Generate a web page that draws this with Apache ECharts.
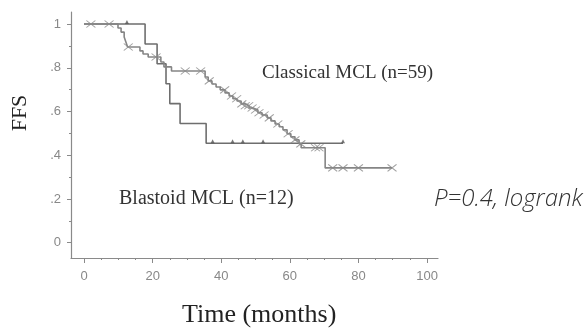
<!DOCTYPE html>
<html><head><meta charset="utf-8">
<script src="https://cdn.jsdelivr.net/npm/echarts@6/dist/echarts.min.js"></script>
<style>html,body{margin:0;padding:0;background:#fff}#c{width:588px;height:330px}</style>
</head><body><div id="c"></div>
<script>
// ---- data ----
const xMajorTicks = [0, 20, 40, 60, 80, 100];
const xMinorTicks = [5, 10, 15, 25, 30, 35, 45, 50, 55, 65, 70, 75, 85, 90, 95];
const yMajorTicks = [0, 0.2, 0.4, 0.6, 0.8, 1];
const yMinorTicks = [0.1, 0.3, 0.5, 0.7, 0.9];

const classicalTime = [0, 9.9, 10.8, 11.7, 12.2, 12.7, 16.3, 17.2, 18.7, 22.4, 23.3, 25.5, 35.3, 36.2, 37.3, 38.5, 39.7, 41.1, 42.3, 43.4, 44.6, 45.8, 46.9, 48.1, 49.3, 50.7, 51.9, 53.4, 54.5, 55.7, 56.9, 58.0, 59.2, 60.3, 61.5, 62.7, 63.3, 70.3, 89.8];
const classicalSurv = [1, 0.982, 0.963, 0.941, 0.918, 0.895, 0.877, 0.863, 0.849, 0.826, 0.804, 0.785, 0.758, 0.74, 0.726, 0.712, 0.699, 0.685, 0.671, 0.658, 0.648, 0.635, 0.626, 0.616, 0.607, 0.594, 0.584, 0.571, 0.557, 0.543, 0.53, 0.516, 0.498, 0.484, 0.47, 0.452, 0.434, 0.342, 0.342];
const classicalCensor = [2, 7.3, 12.9, 21, 29.5, 34, 36.5, 41, 43, 44.5, 46, 47, 48, 49, 50, 51, 52.5, 54, 56.5, 59.5, 61.5, 63.2, 67.5, 68.5, 72.5, 75.5, 80, 89.8];

const blastoidTime = [0, 17.8, 21.3, 23.9, 25, 28, 35.6, 75.5];
const blastoidSurv = [1, 0.909, 0.818, 0.727, 0.636, 0.545, 0.455, 0.455];
const blastoidCensor = [12.5, 37.5, 43.3, 46.3, 52.2, 75.5];

// ---- helpers ----
function survAt(times, surv, t) {
  let s = surv[0];
  for (let i = 0; i < times.length; i++) { if (times[i] <= t) s = surv[i]; }
  return s;
}
const classicalLine = classicalTime.map((t, i) => [t, classicalSurv[i]]);
const blastoidLine = blastoidTime.map((t, i) => [t, blastoidSurv[i]]);
const classicalMarks = classicalCensor.map(t => [t, survAt(classicalTime, classicalSurv, t)]);
const blastoidMarks = blastoidCensor.map(t => [t, survAt(blastoidTime, blastoidSurv, t)]);

const axisGray = '#8a8a8a';
const chart = echarts.init(document.getElementById('c'), null, {renderer: 'canvas'});
chart.setOption({
  animation: false,
  backgroundColor: '#fff',
  grid: {left: 71, right: 150, top: 12, bottom: 72},
  xAxis: [{
    type: 'value', min: -3.8, max: 103.2, position: 'bottom',
    axisLine: {onZero: false, lineStyle: {color: axisGray, width: 1.2}},
    axisTick: {customValues: xMajorTicks, length: 5, lineStyle: {color: axisGray}},
    axisLabel: {customValues: xMajorTicks, margin: 12, color: '#888', fontFamily: 'Liberation Sans', fontSize: 13},
    splitLine: {show: false}
  }, {
    type: 'value', min: -3.8, max: 103.2, position: 'bottom',
    axisLine: {show: false, onZero: false},
    axisTick: {customValues: xMinorTicks, length: 2, lineStyle: {color: axisGray}},
    axisLabel: {show: false}, splitLine: {show: false}
  }],
  yAxis: [{
    type: 'value', min: -0.07, max: 1.055, position: 'left',
    axisLine: {show: true, onZero: false, lineStyle: {color: axisGray, width: 1.2}},
    axisTick: {show: true, customValues: yMajorTicks, length: 4, lineStyle: {color: axisGray}},
    axisLabel: {customValues: yMajorTicks, margin: 10, color: '#888', fontFamily: 'Liberation Sans', fontSize: 13,
      formatter: v => (Math.abs(v - 1) < 1e-9 ? '1' : (Math.abs(v) < 1e-9 ? '0' : '.' + Math.round(v * 10)))},
    splitLine: {show: false}
  }, {
    type: 'value', min: -0.07, max: 1.055, position: 'left',
    axisLine: {show: false, onZero: false},
    axisTick: {show: true, customValues: yMinorTicks, length: 2, lineStyle: {color: axisGray}},
    axisLabel: {show: false}, splitLine: {show: false}
  }],
  series: [{
    type: 'line', step: 'end', data: classicalLine, symbol: 'none',
    lineStyle: {color: '#858585', width: 1.6}, z: 3
  }, {
    type: 'line', step: 'end', data: blastoidLine, symbol: 'none',
    lineStyle: {color: '#6e6e6e', width: 1.6}, z: 2
  }, {
    type: 'scatter', data: classicalMarks,
    symbol: 'path://M0,0L10,8M10,0L0,8', symbolSize: [9, 7],
    itemStyle: {color: 'none', borderColor: '#8a8a8a', borderWidth: 1}, z: 4
  }, {
    type: 'scatter', data: blastoidMarks,
    symbol: 'triangle', symbolSize: [4, 4], symbolOffset: [0, -2],
    itemStyle: {color: '#555'}, z: 4
  }],
  graphic: [
    {type: 'text', left: 262, top: 64, style: {text: 'Classical MCL (n=59)', font: '19px "Liberation Serif"', fill: '#333'}},
    {type: 'text', left: 119, top: 189, style: {text: 'Blastoid MCL (n=12)', font: '20px "Liberation Serif"', fill: '#333'}},
    {type: 'text', left: 434, top: 187, style: {text: 'P=0.4, logrank', font: 'italic 300 24px "Open Sans"', fill: '#333'}},
    {type: 'text', left: 182, top: 302, style: {text: 'Time (months)', font: '26px "Liberation Serif"', fill: '#222'}},
    {type: 'text', x: 20, y: 113, rotation: Math.PI / 2, style: {text: 'FFS', font: '22px "Liberation Serif"', fill: '#222', align: 'center', verticalAlign: 'middle'}}
  ]
});
</script></body></html>
